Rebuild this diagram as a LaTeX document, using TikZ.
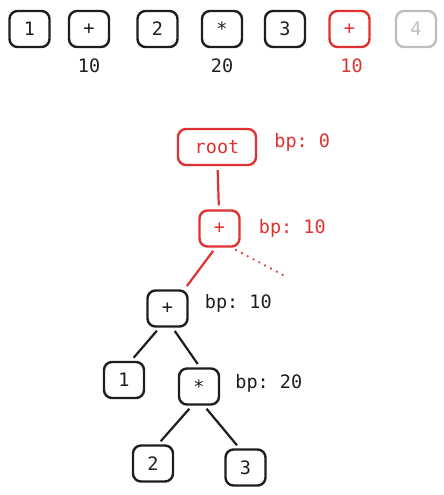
\documentclass[tikz,border=0pt]{standalone}
\usepackage{fontspec}
\setmonofont{DejaVu Sans Mono}
\usetikzlibrary{positioning}
\definecolor{exred}{HTML}{E03131}
\definecolor{exgrey}{HTML}{BDBDBD}
\definecolor{exblack}{HTML}{1E1E1E}

\begin{document}
\begin{tikzpicture}
  [
    x = 1pt,
    y = -1pt,
    font = \ttfamily\fontsize{18.5}{22}\selectfont,
    color = exblack,
    tok/.style = {
      draw,
      line width = 2.4pt,
      rounded corners = 8pt,
      minimum width = 40pt,
      minimum height = 36pt,
      inner sep = 0pt,
    },
    bp/.style = {
      inner sep = 0pt,
    },
    edge/.style = {
      line width = 2.2pt,
      shorten < = 4pt,
      shorten > = 4pt,
    },
    dots/.style = {
      line width = 2.4pt,
      line cap = round,
      dash pattern = on 0.1pt off 6.5pt,
      shorten < = 5pt,
    },
  ]

  \useasboundingbox (0,0) rectangle (444,495);

  % token stream
  \node (tok1) [tok] at (29.5, 29) {1};
  \node (tok2) [tok] at (89, 29) {+};
  \node (tok3) [tok] at (157.5, 29) {2};
  \node (tok4) [tok] at (222, 29) {*};
  \node (tok5) [tok] at (285, 29) {3};
  \node (tok6) [tok, exred] at (349.5, 29) {+};
  \node (tok7) [tok, exgrey] at (416, 29) {4};

  \node (w2) [bp, below = 10pt of tok2] {10};
  \node (w4) [bp, below = 10pt of tok4] {20};
  \node (w6) [bp, exred, below = 10pt of tok6, xshift = 2pt] {10};

  % tree
  \node (root) [tok, exred, minimum width = 78pt] at (217, 147) {root};
  \node (add1) [tok, exred] at (219.5, 228.5) {+};
  \node (add2) [tok] at (167.5, 308.5) {+};
  \node (one) [tok] at (124, 380) {1};
  \node (mul) [tok] at (199, 386.5) {*};
  \node (two) [tok] at (153, 463.5) {2};
  \node (three) [tok] at (245.5, 467.5) {3};

  \node (bproot) [bp, exred, right = 17pt of root, yshift = 5pt] {bp: 0};
  \node (bpadd1) [bp, exred, right = 18pt of add1] {bp: 10};
  \node (bpadd2) [bp, right = 16pt of add2, yshift = 5pt] {bp: 10};
  \node (bpmul) [bp, right = 15pt of mul, yshift = 3pt] {bp: 20};

  \coordinate (tail) at (287, 277);

  \draw [edge, exred] (root) -- (add1);
  \draw [edge, exred] ([xshift=-4pt] add1.south) -- ([xshift=17pt] add2.north);
  \draw [dots, exred] ([xshift=12pt] add1.south) -- (tail);

  \draw [edge] ([xshift=-8pt] add2.south) -- ([xshift=7pt] one.north);
  \draw [edge] ([xshift=5pt] add2.south) -- ([xshift=1pt] mul.north);
  \draw [edge] ([xshift=-7pt] mul.south) -- ([xshift=5pt] two.north);
  \draw [edge] ([xshift=5pt] mul.south) -- ([xshift=-6pt] three.north);

\end{tikzpicture}
\end{document}
